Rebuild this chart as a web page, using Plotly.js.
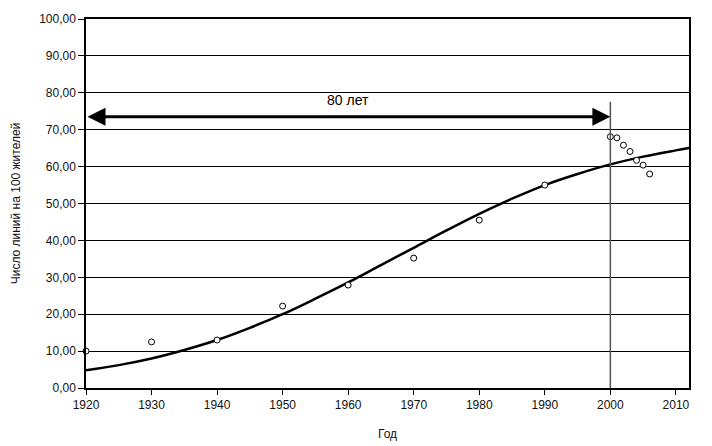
<!DOCTYPE html>
<html>
<head>
<meta charset="utf-8">
<script src="https://cdn.plot.ly/plotly-3.0.1.min.js"></script>
<style>
  body { margin: 0; background: #fff; }
  #chart { width: 712px; height: 446px; }
</style>
</head>
<body>
<div id="chart"></div>
<script>
// observed values (open circles)
let obs_years = [1920, 1930, 1940, 1950, 1960, 1970, 1980, 1990, 2000, 2001, 2002, 2003, 2004, 2005, 2006];
let obs_values = [10.0, 12.5, 13.0, 22.2, 27.9, 35.2, 45.5, 55.0, 68.1, 67.8, 65.8, 64.1, 61.7, 60.4, 58.0];

// fitted trend curve
let fit_years = [1920, 1925, 1930, 1935, 1940, 1945, 1950, 1955, 1960, 1965, 1970, 1975, 1980, 1985, 1990, 1995, 2000, 2005, 2010, 2012.5];
let fit_values = [4.8, 6.2, 8.0, 10.3, 13.0, 16.3, 20.0, 24.2, 28.6, 33.3, 38.0, 42.7, 47.2, 51.3, 55.0, 58.0, 60.6, 62.7, 64.4, 65.2];

// span marker
let span_start = 1920;
let span_end = 2000;
let span_level = 73.5;
let span_label = '80 лет';
let marker_line_top = 77.6;

let font_name = '"Liberation Sans", Arial, sans-serif';

let trace_fit = {
    type: 'scatter',
    mode: 'lines',
    x: fit_years,
    y: fit_values,
    line: {color: '#000000', width: 2.5, shape: 'spline'},
    hoverinfo: 'skip'
};

let trace_obs = {
    type: 'scatter',
    mode: 'markers',
    x: obs_years,
    y: obs_values,
    marker: {symbol: 'circle', size: 6, color: '#ffffff', line: {color: '#000000', width: 1}},
    cliponaxis: false
};

let layout = {
    width: 712,
    height: 446,
    showlegend: false,
    margin: {l: 86, r: 23, t: 19, b: 58},
    paper_bgcolor: '#ffffff',
    plot_bgcolor: '#ffffff',
    font: {family: font_name, size: 12, color: '#111111'},
    separators: ',.',
    xaxis: {
        range: [1920, 2012],
        tickvals: [1920, 1930, 1940, 1950, 1960, 1970, 1980, 1990, 2000, 2010],
        showgrid: false,
        zeroline: false,
        showline: true,
        linecolor: '#000000',
        linewidth: 1.5,
        mirror: true,
        ticks: 'outside',
        ticklen: 5,
        tickcolor: '#000000',
        tickfont: {size: 12},
        title: {text: 'Год', font: {size: 12}, standoff: 18}
    },
    yaxis: {
        range: [0, 100],
        dtick: 10,
        tickformat: '.2f',
        showgrid: true,
        gridcolor: '#000000',
        gridwidth: 1.2,
        zeroline: false,
        showline: true,
        linecolor: '#000000',
        linewidth: 1.5,
        mirror: true,
        ticks: 'outside',
        ticklen: 6,
        tickcolor: '#000000',
        tickfont: {size: 12},
        title: {text: 'Число линий на 100 жителей', font: {size: 12}, standoff: 16}
    },
    shapes: [
        {
            type: 'line', xref: 'x', yref: 'y',
            x0: span_end, x1: span_end, y0: 0, y1: marker_line_top,
            line: {color: '#555555', width: 1.5}
        }
    ],
    annotations: [
        {
            xref: 'x', yref: 'y', axref: 'x', ayref: 'y',
            x: span_end, y: span_level, ax: span_start, ay: span_level,
            text: '', showarrow: true,
            arrowhead: 2, startarrowhead: 2, arrowside: 'end+start',
            arrowsize: 1.2, startarrowsize: 1.2, arrowwidth: 3, arrowcolor: '#000000'
        },
        {
            xref: 'x', yref: 'y',
            x: (span_start + span_end) / 2, y: 78.1,
            text: span_label, showarrow: false,
            font: {family: font_name, size: 14, color: '#000000'}
        }
    ]
};

Plotly.newPlot('chart', [trace_fit, trace_obs], layout, {displayModeBar: false});
</script>
</body>
</html>
